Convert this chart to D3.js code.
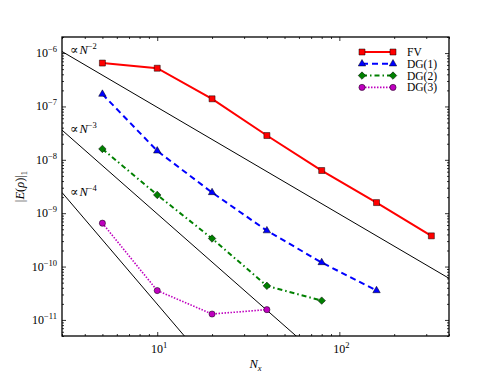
<!DOCTYPE html>
<html>
<head>
<meta charset="utf-8">
<script src="https://cdn.jsdelivr.net/npm/d3@7"></script>
<style>
  body { margin: 0; background: #fff; }
  text { font-family: "Liberation Serif", "DejaVu Serif", serif; fill: #000; }
</style>
</head>
<body>
<script>
// grid sizes
const nx = [5, 10, 20, 40, 80, 160, 320]

// L1 error of rho
const fv  = [6.5e-7, 5.2e-7, 1.39e-7, 2.85e-8, 6.3e-9, 1.58e-9, 3.76e-10]
const dg1 = [1.7e-7, 1.47e-8, 2.44e-9, 4.7e-10, 1.19e-10, 3.55e-11]
const dg2 = [1.6e-8, 2.2e-9, 3.35e-10, 4.35e-11, 2.3e-11]
const dg3 = [6.5e-10, 3.55e-11, 1.29e-11, 1.56e-11]

// reference slopes: order and value at N = 3
const refOrders = [2, 3, 4]
const refStart = [1.07e-6, 3.6e-8, 2.44e-9]

const yTickExp = [-11, -10, -9, -8, -7, -6]
const xTickExp = [1, 2]

const seriesNames = ['FV', 'DG(1)', 'DG(2)', 'DG(3)']
const seriesData = [fv, dg1, dg2, dg3]

const W = 498, H = 374
const m = { left: 62, top: 37, right: 49, bottom: 38 }
const iw = W - m.left - m.right
const ih = H - m.top - m.bottom

const svg = d3.select('body').append('svg')
  .attr('width', W)
  .attr('height', H)

const x = d3.scaleLog().domain([3, 400]).range([0, iw])
const y = d3.scaleLog().domain([5e-12, 2e-6]).range([ih, 0])

const g = svg.append('g').attr('transform', `translate(${m.left},${m.top})`)

g.append('clipPath').attr('id', 'clip')
  .append('rect').attr('width', iw).attr('height', ih)

// reference lines
const refLine = d3.line().x(d => x(d[0])).y(d => y(d[1]))
const xr = x.domain()
refOrders.forEach((p, i) => {
  const pts = xr.map(n => [n, refStart[i] * Math.pow(xr[0] / n, p)])
  g.append('path')
    .attr('clip-path', 'url(#clip)')
    .attr('d', refLine(pts))
    .attr('fill', 'none')
    .attr('stroke', '#000')
    .attr('stroke-width', 1)

  const t = g.append('text')
    .attr('x', 8)
    .attr('y', y(refStart[i]) + 3)
    .attr('font-size', 12.5)
  t.append('tspan').text('\u221D')
  t.append('tspan').attr('font-style', 'italic').attr('dx', 1).text('N')
  t.append('tspan').attr('font-size', 8.5).attr('dy', -5).text('\u2212' + p)
})

// series
const styles = [
  { color: '#ff0000', dash: null, width: 2, shape: d3.symbolSquare, size: 36, rot: 0 },
  { color: '#0000ff', dash: '6,4', width: 2, shape: d3.symbolTriangle, size: 24, rot: 0 },
  { color: '#008000', dash: '5,3,1.5,3', width: 2, shape: d3.symbolSquare, size: 28, rot: 45 },
  { color: '#bf00bf', dash: '1.5,1.5', width: 1.6, shape: d3.symbolCircle, size: 30, rot: 0 }
]

const line = d3.line().x(d => x(d[0])).y(d => y(d[1]))

seriesData.forEach((vals, i) => {
  const s = styles[i]
  const pts = vals.map((v, j) => [nx[j], v])
  g.append('path')
    .attr('d', line(pts))
    .attr('fill', 'none')
    .attr('stroke', s.color)
    .attr('stroke-width', s.width)
    .attr('stroke-dasharray', s.dash)

  g.selectAll(null).data(pts).enter()
    .append('path')
    .attr('transform', d => `translate(${x(d[0])},${y(d[1])}) rotate(${s.rot})`)
    .attr('d', d3.symbol().type(s.shape).size(s.size))
    .attr('fill', s.color)
    .attr('stroke', '#000')
    .attr('stroke-width', 0.5)
})

// ticks (inward, on all four sides)
const xMajor = xTickExp.map(e => Math.pow(10, e))
const xMinor = []
for (let e = 0; e <= 2; e++) {
  for (let k = 2; k <= 9; k++) {
    const v = k * Math.pow(10, e)
    if (v >= 3 && v <= 400) xMinor.push(v)
  }
}
const yMajor = yTickExp.map(e => Math.pow(10, e))
const yMinor = []
for (let e = -12; e <= -6; e++) {
  for (let k = 2; k <= 9; k++) {
    const v = k * Math.pow(10, e)
    if (v >= 5e-12 && v <= 2e-6) yMinor.push(v)
  }
}

function tickAxis (axisFn, scale, vals, len, tr) {
  const a = g.append('g')
    .attr('transform', tr)
    .call(axisFn(scale).tickValues(vals).tickSize(-len).tickFormat(''))
  a.select('.domain').remove()
  a.selectAll('line').attr('stroke', '#000').attr('stroke-width', 0.8)
}

tickAxis(d3.axisBottom, x, xMajor, 4, `translate(0,${ih})`)
tickAxis(d3.axisBottom, x, xMinor, 2, `translate(0,${ih})`)
tickAxis(d3.axisTop, x, xMajor, 4, 'translate(0,0)')
tickAxis(d3.axisTop, x, xMinor, 2, 'translate(0,0)')
tickAxis(d3.axisLeft, y, yMajor, 4, 'translate(0,0)')
tickAxis(d3.axisLeft, y, yMinor, 2, 'translate(0,0)')
tickAxis(d3.axisRight, y, yMajor, 4, `translate(${iw},0)`)
tickAxis(d3.axisRight, y, yMinor, 2, `translate(${iw},0)`)

// frame
g.append('rect')
  .attr('width', iw)
  .attr('height', ih)
  .attr('fill', 'none')
  .attr('stroke', '#000')
  .attr('stroke-width', 1.3)

// tick labels
yTickExp.forEach(e => {
  const t = g.append('text')
    .attr('x', -5)
    .attr('y', y(Math.pow(10, e)) + 4)
    .attr('text-anchor', 'end')
    .attr('font-size', 12)
  t.append('tspan').text('10')
  t.append('tspan').attr('font-size', 8.5).attr('dy', -5).text('\u2212' + (-e))
})
xTickExp.forEach(e => {
  const t = g.append('text')
    .attr('x', x(Math.pow(10, e)) + 2)
    .attr('y', ih + 17)
    .attr('text-anchor', 'middle')
    .attr('font-size', 12)
  t.append('tspan').text('10')
  t.append('tspan').attr('font-size', 8.5).attr('dy', -5).text(e)
})

// axis titles
const xl = g.append('text')
  .attr('x', iw / 2)
  .attr('y', ih + 32)
  .attr('text-anchor', 'middle')
  .attr('font-size', 12.5)
xl.append('tspan').attr('font-style', 'italic').text('N')
xl.append('tspan').attr('font-style', 'italic').attr('font-size', 8.5).attr('dy', 3).text('x')

const yl = g.append('text')
  .attr('transform', `translate(-38,${ih / 2}) rotate(-90)`)
  .attr('text-anchor', 'middle')
  .attr('font-size', 12.5)
yl.append('tspan').text('|')
yl.append('tspan').attr('font-style', 'italic').text('E')
yl.append('tspan').text('(')
yl.append('tspan').attr('font-style', 'italic').text('\u03C1')
yl.append('tspan').text(')|')
yl.append('tspan').attr('font-size', 8.5).attr('dy', 3).text('1')

// legend
const leg = g.append('g').attr('transform', `translate(${iw - 87},15)`)
seriesNames.forEach((name, i) => {
  const s = styles[i]
  const row = leg.append('g').attr('transform', `translate(0,${i * 11.8})`)
  row.append('line')
    .attr('x1', 0).attr('x2', 31)
    .attr('stroke', s.color)
    .attr('stroke-width', s.width)
    .attr('stroke-dasharray', s.dash)
  ;[0, 31].forEach(px => {
    row.append('path')
      .attr('transform', `translate(${px},0) rotate(${s.rot})`)
      .attr('d', d3.symbol().type(s.shape).size(s.size))
      .attr('fill', s.color)
      .attr('stroke', '#000')
      .attr('stroke-width', 0.5)
  })
  row.append('text')
    .attr('x', 45)
    .attr('y', 4)
    .attr('font-size', 11.5)
    .text(name)
})
</script>
</body>
</html>
